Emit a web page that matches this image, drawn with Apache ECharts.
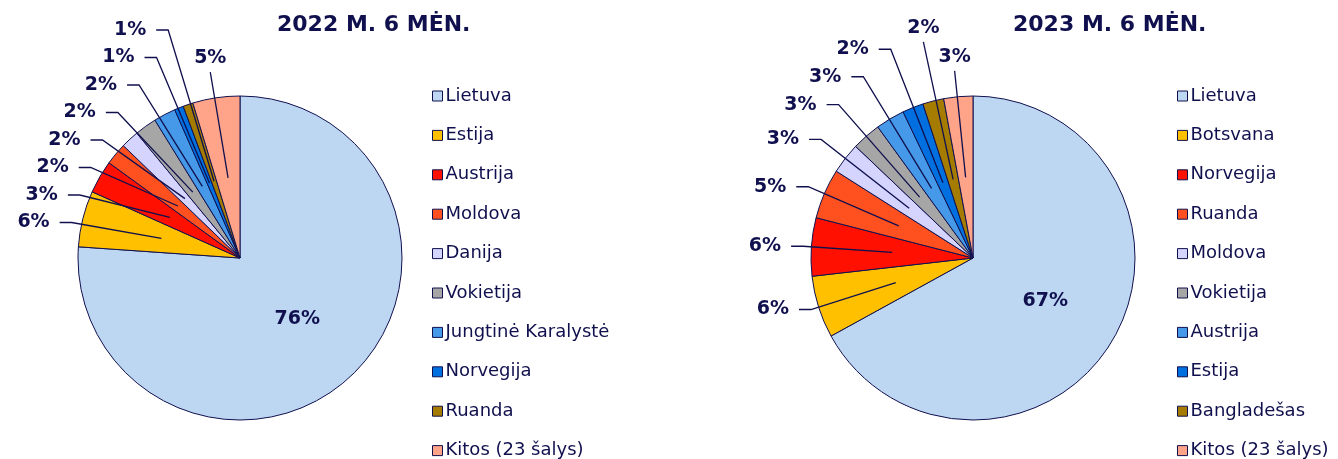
<!DOCTYPE html>
<html>
<head>
<meta charset="utf-8">
<script src="https://cdn.jsdelivr.net/npm/echarts@6/dist/echarts.min.js"></script>
<style>
html,body{margin:0;padding:0;background:#fff;}
#c1{position:absolute;left:0;top:0;width:669px;height:459px;}
#c2{position:absolute;left:669px;top:0;width:669px;height:459px;}
</style>
</head>
<body>
<div id="c1"></div>
<div id="c2"></div>
<script>
const title2022 = '2022 M. 6 MĖN.';
const cats2022 = ['Lietuva','Estija','Austrija','Moldova','Danija','Vokietija','Jungtinė Karalystė','Norvegija','Ruanda','Kitos (23 šalys)'];
const vals2022 = [76.1, 5.6, 3.3, 2.2, 1.8, 2.2, 2.2, 0.9, 1.0, 4.7];

const title2023 = '2023 M. 6 MĖN.';
const cats2023 = ['Lietuva','Botsvana','Norvegija','Ruanda','Moldova','Vokietija','Austrija','Estija','Bangladešas','Kitos (23 šalys)'];
const vals2023 = [67.0, 6.2, 5.8, 5.0, 3.1, 2.9, 2.9, 2.1, 2.1, 2.9];

const palette = ['#BDD7F2','#FFC000','#FF1000','#FF5020','#D4D4FF','#A6A6A6','#4599E8','#0070E0','#A67C00','#FFA489'];

const NAVY = '#10104e';
const FONT = '"DejaVu Sans", Verdana, sans-serif';
const R = 162, CY = 258;
const GAP_Y = 27.5, MIN_Y = 30, L2 = 12, TXT_GAP = 10;

// Leader-line / label placement derived from the slice angles (Excel-like best fit)
function computeLabels(vals, cx) {
  const total = vals.reduce((a, b) => a + b, 0);
  let acc = 0;
  const res = [];
  const sides = { left: [], right: [] };
  const tops = [];
  vals.forEach((v, i) => {
    const a = (acc + v / 2) / total * 2 * Math.PI; acc += v;
    if (i === 0) return;
    const sx = Math.sin(a), sy = -Math.cos(a);
    const inner = [cx + sx * R * 0.5, CY + sy * R * 0.5];
    if (Math.abs(sx) < 0.292 && sy < 0) {
      tops.push({ i, sx, sy, inner });
    } else {
      const up = Math.max(0, -sy);
      const re = R + 8 + 60 * up * up;
      const el = [cx + sx * re, CY + sy * re];
      (sx < 0 ? sides.left : sides.right).push({ i, sx, inner, ex: el[0], ideal: el[1] });
    }
  });
  ['left', 'right'].forEach(side => {
    const arr = sides[side].sort((p, q) => p.ideal - q.ideal);
    const blocks = [];
    const fix = b => { b.top = Math.max(MIN_Y, b.sum / b.items.length - (b.items.length - 1) * GAP_Y / 2); };
    arr.forEach(l => {
      blocks.push({ items: [l], sum: l.ideal });
      fix(blocks[blocks.length - 1]);
      while (blocks.length > 1) {
        const b2 = blocks[blocks.length - 1], b1 = blocks[blocks.length - 2];
        if (b1.top + b1.items.length * GAP_Y > b2.top) {
          b1.items = b1.items.concat(b2.items); b1.sum += b2.sum; blocks.pop(); fix(b1);
        } else break;
      }
    });
    blocks.forEach(b => b.items.forEach((l, k) => {
      const y = b.top + k * GAP_Y;
      const dir = side === 'left' ? -1 : 1;
      res[l.i] = {
        x: l.ex + dir * (L2 + TXT_GAP), y, align: side === 'left' ? 'right' : 'left',
        pts: [l.inner, [l.ex, y], [l.ex + dir * L2, y]]
      };
    }));
  });
  tops.sort((p, q) => Math.abs(p.sx) - Math.abs(q.sx));
  const placed = [];
  tops.forEach(t => {
    const rt = R + 40;
    const x = cx + t.sx * rt;
    let y = CY + t.sy * rt;
    placed.forEach(q => { if (Math.abs(q.x - x) < 40 && Math.abs(q.y - y) < 28) y = q.y - 29; });
    placed.push({ x, y });
    res[t.i] = { x, y, align: 'center', pts: [t.inner, [x, y + 14], [x, y + 14]] };
  });
  return res;
}

function makeOption(title, cats, vals, cfg) {
  const lab = computeLabels(vals, cfg.cx);
  const labelFont = { fontFamily: FONT, fontWeight: 'bold', fontSize: 19, color: NAVY, formatter: p => Math.round(p.percent) + '%' };
  const pieData = cats.map((c, i) => ({
    name: c, value: vals[i], itemStyle: { color: palette[i] },
    label: { show: i === 0 }
  }));
  const overlayData = cats.map((c, i) => ({
    name: c, value: vals[i],
    label: { show: i !== 0 },
    labelLine: { show: i !== 0 }
  }));
  return {
    animation: false,
    title: {
      text: title, left: cfg.titleLeft, top: 14, padding: 0,
      textStyle: { fontFamily: FONT, fontWeight: 'bold', fontSize: 22, color: NAVY }
    },
    legend: {
      orient: 'vertical', left: cfg.legendLeft, top: 87, height: 420, padding: 0,
      itemWidth: 10, itemHeight: 10, itemGap: 21.4, icon: 'rect',
      textStyle: { fontFamily: FONT, fontSize: 18, color: NAVY, padding: [0, 0, 0, -2] },
      itemStyle: { borderColor: NAVY, borderWidth: 1 },
      data: cats
    },
    series: [{
      type: 'pie', z: 2,
      center: [cfg.cx, CY], radius: R, startAngle: 90, clockwise: true,
      itemStyle: { borderColor: NAVY, borderWidth: 1 },
      label: Object.assign({ position: 'inside' }, labelFont),
      labelLine: { show: false },
      emphasis: { disabled: true },
      data: pieData
    }, {
      type: 'pie', z: 4, silent: true,
      center: [cfg.cx, CY], radius: R, startAngle: 90, clockwise: true,
      avoidLabelOverlap: false,
      itemStyle: { color: 'rgba(0,0,0,0)', borderWidth: 0 },
      label: Object.assign({ position: 'outside', width: 60, overflow: 'none' }, labelFont),
      labelLine: { length: 20, length2: 12, lineStyle: { color: NAVY, width: 1.3 } },
      labelLayout: function (params) {
        const L = lab[params.dataIndex];
        if (!L) return {};
        return { x: L.x, y: L.y, align: L.align, verticalAlign: 'middle', labelLinePoints: L.pts };
      },
      emphasis: { disabled: true },
      data: overlayData
    }]
  };
}

const ch1 = echarts.init(document.getElementById('c1'), null, { renderer: 'canvas' });
ch1.setOption(makeOption(title2022, cats2022, vals2022, { cx: 240, titleLeft: 277, legendLeft: 432 }));
const ch2 = echarts.init(document.getElementById('c2'), null, { renderer: 'canvas' });
ch2.setOption(makeOption(title2023, cats2023, vals2023, { cx: 304, titleLeft: 344, legendLeft: 508 }));
</script>
</body>
</html>
